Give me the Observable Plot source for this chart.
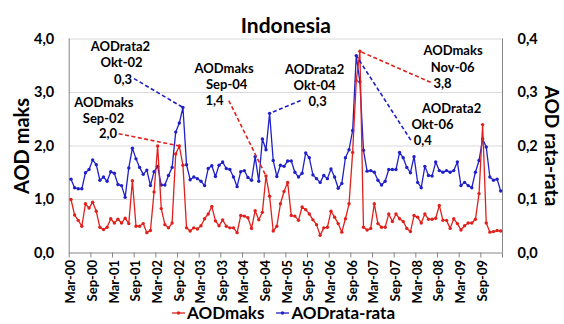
<!DOCTYPE html>
<html>
<head>
<meta charset="utf-8">
<script src="https://cdn.jsdelivr.net/npm/d3@7"></script>
<script src="https://cdn.jsdelivr.net/npm/@observablehq/plot@0.6"></script>
<style>
  body { margin: 0; background: #fff; font-family: Lato, "Open Sans", sans-serif; }
  #chart { position: relative; width: 564px; height: 324px; overflow: hidden; }
  #chart svg { position: absolute; left: 0; top: 0; }
  #legend { position: absolute; top: 302px; left: 172px; display: flex; align-items: center;
            font-weight: bold; font-size: 17px; color: #000; }
  #legend .item { display: flex; align-items: center; margin-right: 12px; }
  #legend svg { position: static; margin-right: 2px; }
</style>
</head>
<body>
<div id="chart"></div>
<script>
// Monthly AOD over Indonesia, Mar-2000 .. Feb-2010
const bulan = ["Jan","Feb","Mar","Apr","Mei","Jun","Jul","Agu","Sep","Okt","Nov","Des"];
const months = d3.utcMonths(new Date(Date.UTC(2000, 2, 1)), new Date(Date.UTC(2010, 2, 1)))
  .map(d => bulan[d.getUTCMonth()] + "-" + String(d.getUTCFullYear() % 100).padStart(2, "0"));

const tickMonths = ["Mar-00","Sep-00","Mar-01","Sep-01","Mar-02","Sep-02","Mar-03","Sep-03","Mar-04","Sep-04",
                    "Mar-05","Sep-05","Mar-06","Sep-06","Mar-07","Sep-07","Mar-08","Sep-08","Mar-09","Sep-09"];

// AODmaks (left axis)
const aodMaks = [
  1.00,0.71,0.61,0.50,0.92,0.84,0.95,0.78,0.48,0.44,0.48,0.64,0.56,0.63,0.56,0.65,0.55,1.35,0.50,0.50,
  0.55,0.38,0.42,1.14,2.00,0.83,0.53,0.47,0.56,1.85,2.00,1.64,0.47,0.41,0.47,0.45,0.51,0.64,0.73,0.87,
  0.60,0.51,0.62,0.50,0.47,0.47,0.38,0.70,0.69,0.66,0.46,0.79,0.62,0.76,1.44,1.06,0.41,0.50,0.92,1.15,
  1.32,0.70,0.69,0.61,0.86,0.81,0.73,0.62,0.53,0.33,0.47,0.48,0.78,0.67,0.55,0.39,0.64,0.92,1.88,3.22,
  3.77,0.48,0.43,0.46,0.92,0.55,0.48,0.48,0.73,0.59,0.73,0.64,0.59,0.46,0.40,0.70,0.67,0.56,0.73,0.63,
  0.63,0.65,0.89,0.61,0.61,0.46,0.64,0.55,0.43,0.51,0.56,0.56,0.63,1.11,2.40,0.56,0.39,0.40,0.42,0.41
];

// AODrata-rata (right axis)
const aodRata = [
  0.138,0.122,0.120,0.120,0.150,0.156,0.174,0.165,0.136,0.142,0.134,0.152,0.149,0.128,0.126,0.104,0.159,0.196,0.176,0.160,
  0.147,0.155,0.126,0.152,0.162,0.127,0.127,0.145,0.160,0.226,0.243,0.272,0.165,0.137,0.142,0.139,0.134,0.126,0.158,0.163,
  0.143,0.164,0.170,0.158,0.156,0.142,0.124,0.152,0.154,0.141,0.136,0.180,0.134,0.213,0.193,0.261,0.173,0.143,0.164,0.162,
  0.172,0.172,0.151,0.142,0.149,0.187,0.178,0.146,0.139,0.132,0.145,0.139,0.157,0.142,0.121,0.130,0.178,0.193,0.229,0.369,
  0.320,0.192,0.153,0.154,0.151,0.136,0.127,0.134,0.156,0.156,0.156,0.188,0.178,0.160,0.150,0.180,0.132,0.122,0.162,0.145,
  0.144,0.170,0.154,0.151,0.154,0.151,0.154,0.170,0.126,0.132,0.126,0.122,0.151,0.173,0.213,0.198,0.142,0.136,0.138,0.116
];

// Highlighted peaks
const callouts = [
  {series: "AODrata2", month: "Okt-02"},
  {series: "AODmaks",  month: "Sep-02"},
  {series: "AODmaks",  month: "Sep-04"},
  {series: "AODrata2", month: "Okt-04"},
  {series: "AODmaks",  month: "Nov-06"},
  {series: "AODrata2", month: "Okt-06"}
];

// Where each callout's text sits, in (month index, left-axis value) units
const calloutPlacement = [
  {name: [13.7, 3.86],  month: [14.0, 3.55],  value: [14.4, 3.24],  leader: [17.45, 3.26]},
  {name: [9.1, 2.80],   month: [9.0, 2.51],   value: [10.25, 2.22], leader: [13.2, 2.23]},
  {name: [42.4, 3.44],  month: [43.1, 3.14],  value: [39.75, 2.84], leader: [43.7, 2.85]},
  {name: [67.45, 3.42], month: [67.45, 3.12], value: [68.3, 2.82],  leader: [63.6, 2.85]},
  {name: [105.8, 3.77], month: [105.7, 3.47], value: [102.9, 3.17], leader: [99.6, 3.19]},
  {name: [105.4, 2.69], month: [100.1, 2.39], value: [97.4, 2.09],  leader: [94.1, 2.11]}
];

const RED = "#e0201c";
const BLUE = "#2020c8";
const fmt1 = d3.formatLocale({decimal: ",", thousands: ".", grouping: [3], currency: ["Rp", ""]}).format(".1f");

const maks = aodMaks.map((v, i) => ({i, v}));
const rata = aodRata.map((v, i) => ({i, v}));
const RATIO = 10; // right axis 0..0.4 shares the frame with left axis 0..4

const notes = callouts.map((c, k) => {
  const i = months.indexOf(c.month);
  const isMaks = c.series === "AODmaks";
  const v = isMaks ? aodMaks[i] : aodRata[i];
  return {
    ...c, i, v, color: isMaks ? RED : BLUE,
    py: isMaks ? v : v * RATIO,
    p: calloutPlacement[k]
  };
});

const tickIdx = tickMonths.map(m => months.indexOf(m));
const boundaries = d3.range(-0.5, months.length, 6);

const plot = Plot.plot({
  width: 564,
  height: 324,
  marginTop: 38.5,
  marginBottom: 71.5,
  marginLeft: 68.7,
  marginRight: 62,
  style: {fontFamily: "Lato, 'Open Sans', sans-serif", fontWeight: "bold", color: "#000", background: "white"},
  x: {type: "linear", domain: [-0.5, months.length - 0.5]},
  y: {domain: [0, 4]},
  marks: [
    Plot.gridY([1, 2, 3, 4], {stroke: "#d9d9d9", strokeOpacity: 1}),
    Plot.ruleX([-0.5, months.length - 0.5], {stroke: "#868686"}),
    Plot.ruleY([0], {stroke: "#868686"}),
    Plot.axisX(boundaries, {tickSize: 5, stroke: "#868686", tickFormat: () => "", label: null}),
    Plot.axisX(tickIdx, {tickSize: 0, tickPadding: 7, tickRotate: -90, fontSize: 13,
      tickFormat: i => months[i], label: null}),
    Plot.axisY([0, 1, 2, 3, 4], {tickSize: 0, tickPadding: 15, fontSize: 14.5, tickFormat: fmt1, label: null}),
    Plot.axisY([0, 1, 2, 3, 4], {anchor: "right", tickSize: 0, tickPadding: 15, fontSize: 14.5,
      tickFormat: d => fmt1(d / RATIO), label: null}),
    // series
    Plot.line(rata, {x: "i", y: d => d.v * RATIO, stroke: BLUE, strokeWidth: 1.3}),
    Plot.dot(rata, {x: "i", y: d => d.v * RATIO, r: 1.7, fill: BLUE, stroke: null}),
    Plot.line(maks, {x: "i", y: "v", stroke: RED, strokeWidth: 1.3}),
    Plot.dot(maks, {x: "i", y: "v", r: 1.7, fill: RED, stroke: null}),
    // callouts
    Plot.link(notes, {x1: d => d.p.leader[0], y1: d => d.p.leader[1], x2: "i", y2: "py",
      stroke: "color", strokeWidth: 1.6, strokeDasharray: "4,2.5"}),
    Plot.text(notes, {x: d => d.p.name[0], y: d => d.p.name[1], text: "series", fontSize: 13, fill: "#000"}),
    Plot.text(notes, {x: d => d.p.month[0], y: d => d.p.month[1], text: "month", fontSize: 13, fill: "#000"}),
    Plot.text(notes, {x: d => d.p.value[0], y: d => d.p.value[1], text: d => fmt1(d.v), fontSize: 13, fill: "#000"}),
    // titles
    Plot.text(["Indonesia"], {frameAnchor: "top", dy: -20.5, fontSize: 21, fill: "#000"}),
    Plot.text(["AOD maks"], {frameAnchor: "left", dx: -47, rotate: -90, textAnchor: "middle", fontSize: 20, fill: "#000"}),
    Plot.text(["AOD rata-rata"], {frameAnchor: "right", dx: 48.5, rotate: 90, textAnchor: "middle", fontSize: 19, fill: "#000"})
  ]
});

const chart = document.getElementById("chart");
chart.appendChild(plot);

// legend
const legend = document.createElement("div");
legend.id = "legend";
for (const [name, color] of [["AODmaks", RED], ["AODrata-rata", BLUE]]) {
  const item = document.createElement("div");
  item.className = "item";
  item.innerHTML = `<svg width="13" height="10"><line x1="0" x2="13" y1="5" y2="5" stroke="${color}" stroke-width="1.3"/>` +
    `<circle cx="6.5" cy="5" r="1.7" fill="${color}"/></svg><span>${name}</span>`;
  legend.appendChild(item);
}
chart.appendChild(legend);
</script>
</body>
</html>
